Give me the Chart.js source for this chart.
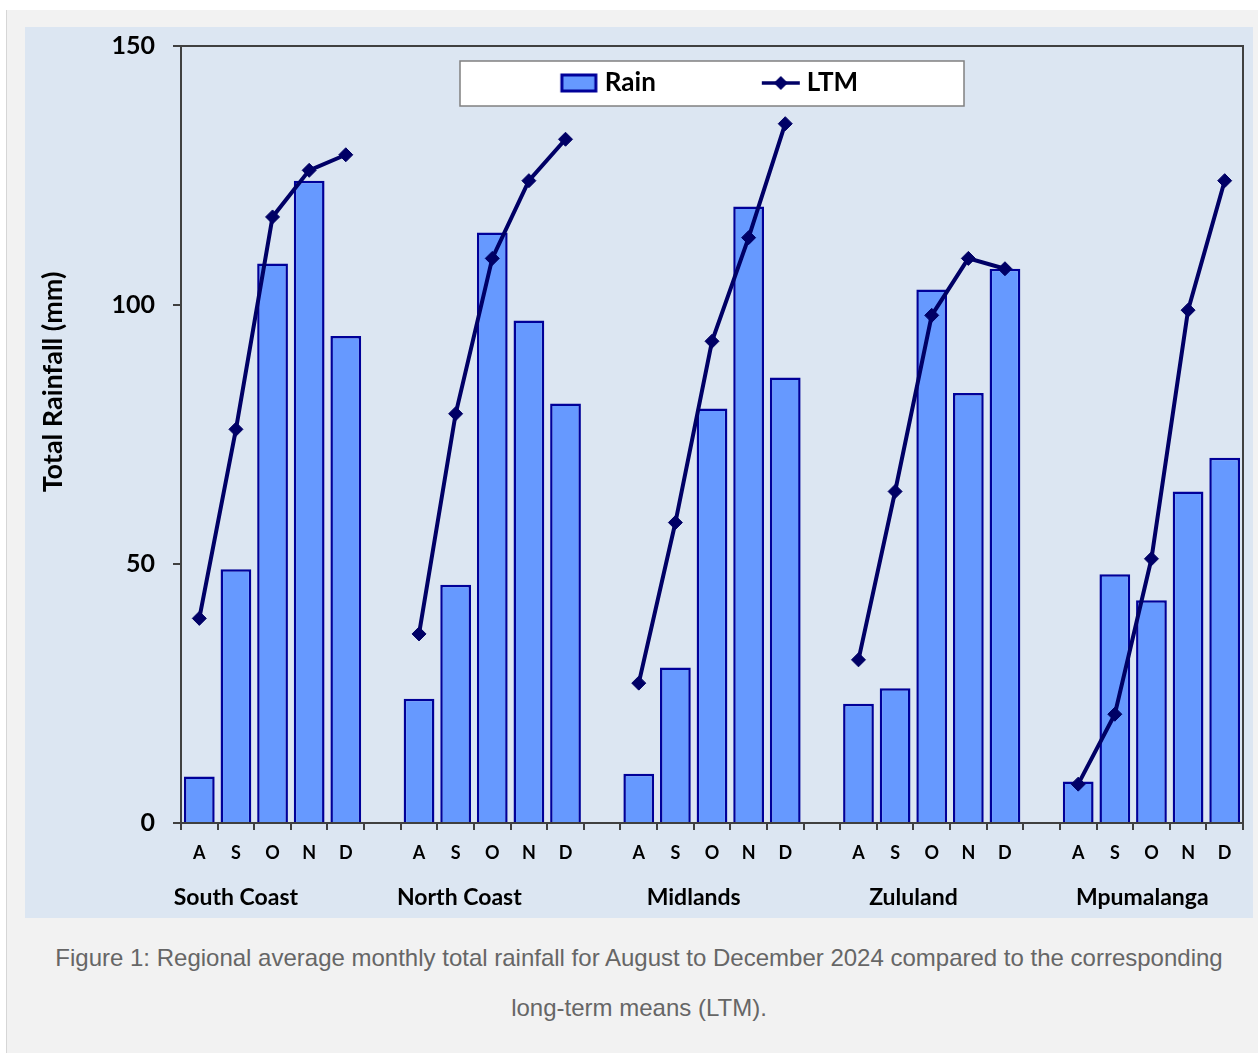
<!DOCTYPE html>
<html>
<head>
<meta charset="utf-8">
<script src="https://cdn.jsdelivr.net/npm/chart.js@4.4.1/dist/chart.umd.min.js"></script>
<style>
body { margin: 0; background: #ffffff; }
#page { position: absolute; left: 6px; top: 10px; width: 1252px; height: 1043px; background: #f2f2f2; border-left: 1px solid #d6d6d6; }
#chartBox { position: absolute; left: 18px; top: 17px; width: 1228px; height: 891px; background: #dce6f2; }
#caption { position: absolute; left: 0px; top: 923px; width: 1264px; text-align: center;
  font-family: "Liberation Sans", Arial, sans-serif; font-size: 24px; line-height: 50px; color: #666666; }
</style>
</head>
<body>
<div id="page">
  <div id="chartBox"><canvas id="myChart"></canvas></div>
  <div id="caption">Figure 1: Regional average monthly total rainfall for August to December 2024 compared to the corresponding<br>long-term means (LTM).</div>
</div>
<script>
const regions = ['South Coast', 'North Coast', 'Midlands', 'Zululand', 'Mpumalanga']
const months = ['A', 'S', 'O', 'N', 'D']

const rainSouthCoast = [9, 49, 108, 124, 94]
const ltmSouthCoast = [39.5, 76, 117, 126, 129]
const rainNorthCoast = [24, 46, 114, 97, 81]
const ltmNorthCoast = [36.5, 79, 109, 124, 132]
const rainMidlands = [9.5, 30, 80, 119, 86]
const ltmMidlands = [27, 58, 93, 113, 135]
const rainZululand = [23, 26, 103, 83, 107]
const ltmZululand = [31.5, 64, 98, 109, 107]
const rainMpumalanga = [8, 48, 43, 64, 70.5]
const ltmMpumalanga = [7.5, 21, 51, 99, 124]

// where each region name sits under its group (in month slots, A = 0)
const regionLabelSlot = [1.0, 1.1, 1.5, 1.5, 1.75]

const yTicks = [0, 50, 100, 150]
const yTitle = 'Total Rainfall (mm)'

const rainByRegion = [rainSouthCoast, rainNorthCoast, rainMidlands, rainZululand, rainMpumalanga]
const ltmByRegion = [ltmSouthCoast, ltmNorthCoast, ltmMidlands, ltmZululand, ltmMpumalanga]

// one spacer category between regions, line breaks there
const monthLabels = []
const rainData = []
const ltmData = []
const regionTickPos = []
regions.forEach((region, i) => {
    regionTickPos.push(monthLabels.length + regionLabelSlot[i])
    months.forEach((m, j) => {
        monthLabels.push(m)
        rainData.push(rainByRegion[i][j])
        ltmData.push(ltmByRegion[i][j])
    })
    if (i < regions.length - 1) {
        monthLabels.push('')
        rainData.push(null)
        ltmData.push(null)
    }
})

const barFill = '#6699ff'
const barBorder = '#000099'
const lineColor = '#000066'
const axisColor = '#404040'
const fontFamily = 'Lato, "Open Sans", sans-serif'

function legendIcon(kind) {
    const c = document.createElement('canvas')
    c.width = 40
    c.height = 22
    const g = c.getContext('2d')
    if (kind === 'bar') {
        g.fillStyle = barFill
        g.fillRect(3, 3, 34, 16)
        g.strokeStyle = barBorder
        g.lineWidth = 3
        g.strokeRect(3, 3, 34, 16)
    } else {
        g.strokeStyle = lineColor
        g.lineWidth = 3.5
        g.beginPath()
        g.moveTo(1, 11)
        g.lineTo(39, 11)
        g.stroke()
        g.fillStyle = lineColor
        g.beginPath()
        g.moveTo(20, 4)
        g.lineTo(27, 11)
        g.lineTo(20, 18)
        g.lineTo(13, 11)
        g.closePath()
        g.fill()
    }
    return c
}

const framePlugin = {
    id: 'frame',
    afterLayout(chart) {
        // move the legend inside the plot frame
        const lg = chart.legend
        const a = chart.chartArea
        const pad = lg.options.labels.padding
        lg.left = a.left
        lg.right = a.right
        lg.top = a.top + 24 - pad
        lg.bottom = a.top + 100
    },
    beforeDraw(chart) {
        const ctx = chart.ctx
        const a = chart.chartArea
        const cx = (a.left + a.right) / 2
        ctx.save()
        ctx.fillStyle = '#ffffff'
        ctx.fillRect(cx - 252, a.top + 15, 504, 45)
        ctx.strokeStyle = '#808080'
        ctx.lineWidth = 1.5
        ctx.strokeRect(cx - 252, a.top + 15, 504, 45)
        ctx.restore()
    },
    afterDraw(chart) {
        const ctx = chart.ctx
        const a = chart.chartArea
        ctx.save()
        ctx.strokeStyle = axisColor
        ctx.lineWidth = 2
        ctx.beginPath()
        ctx.moveTo(a.left, a.top)
        ctx.lineTo(a.right, a.top)
        ctx.lineTo(a.right, a.bottom)
        ctx.stroke()
        // axis title
        ctx.translate(28, 355)
        ctx.rotate(-Math.PI / 2)
        ctx.fillStyle = '#000000'
        ctx.font = 'bold 27px ' + fontFamily
        ctx.textAlign = 'center'
        ctx.textBaseline = 'middle'
        ctx.fillText(yTitle, 0, 0)
        ctx.restore()
    }
}

function createChart() {
    const chartie = document.getElementById('myChart')

    new Chart(chartie, {
        type: 'bar',
        data: {
            labels: monthLabels,
            datasets: [
                {
                    label: 'Rain',
                    data: rainData,
                    backgroundColor: barFill,
                    borderColor: barBorder,
                    borderWidth: 2.5,
                    barPercentage: 0.84,
                    categoryPercentage: 1,
                    order: 1
                },
                {
                    type: 'line',
                    label: 'LTM',
                    data: ltmData,
                    borderColor: lineColor,
                    borderWidth: 4,
                    backgroundColor: lineColor,
                    pointStyle: 'rectRot',
                    pointRadius: 7,
                    pointBackgroundColor: lineColor,
                    pointBorderColor: lineColor,
                    pointBorderWidth: 1,
                    spanGaps: false,
                    tension: 0,
                    order: 0
                }
            ]
        },
        options: {
            maintainAspectRatio: false,
            responsive: true,
            animation: false,
            layout: { padding: { top: 18, right: 10, left: 0, bottom: 0 } },
            plugins: {
                tooltip: { enabled: false },
                legend: {
                    position: 'top',
                    align: 'center',
                    maxHeight: 1,
                    labels: {
                        usePointStyle: true,
                        pointStyleWidth: 26,
                        padding: 112,
                        color: '#000000',
                        font: { family: fontFamily, size: 26, weight: 'bold' },
                        generateLabels: () => [
                            { text: 'Rain', pointStyle: legendIcon('bar'), datasetIndex: 0, fontColor: '#000000', lineWidth: 0 },
                            { text: 'LTM', pointStyle: legendIcon('line'), datasetIndex: 1, fontColor: '#000000', lineWidth: 0 }
                        ]
                    }
                }
            },
            scales: {
                x: {
                    offset: true,
                    border: { display: true, color: axisColor, width: 2 },
                    grid: { offset: true, drawOnChartArea: false, drawTicks: true, tickLength: 7, color: axisColor, lineWidth: 2 },
                    ticks: {
                        autoSkip: false, maxRotation: 0, minRotation: 0, padding: 12, color: '#000000',
                        font: { family: fontFamily, size: 18, weight: 'bold' }
                    },
                    afterFit: (scale) => { scale.height = 50 }
                },
                x2: {
                    type: 'linear',
                    position: 'bottom',
                    offset: false,
                    min: -0.5,
                    max: monthLabels.length - 0.5,
                    afterBuildTicks: (scale) => { scale.ticks = regionTickPos.map(v => ({ value: v })) },
                    border: { display: false },
                    grid: { display: false, drawTicks: false },
                    ticks: {
                        autoSkip: false, maxRotation: 0, minRotation: 0, padding: 11, color: '#000000',
                        font: { family: fontFamily, size: 23, weight: 'bold' },
                        callback: (value, index) => regions[index]
                    },
                    afterFit: (scale) => { scale.height = 45 }
                },
                y: {
                    min: yTicks[0],
                    max: yTicks[yTicks.length - 1],
                    afterBuildTicks: (scale) => { scale.ticks = yTicks.map(v => ({ value: v })) },
                    border: { display: true, color: axisColor, width: 2 },
                    grid: { drawOnChartArea: false, drawTicks: true, tickLength: 8, color: axisColor, lineWidth: 2 },
                    ticks: {
                        padding: 18, color: '#000000',
                        font: { family: fontFamily, size: 25, weight: 'bold' }
                    },
                    afterFit: (scale) => {
                        scale.width = 156
                        scale.paddingTop = 0
                        scale.paddingBottom = 0
                    }
                }
            }
        },
        plugins: [framePlugin]
    })
    console.log('chart created')
}

createChart()
</script>
</body>
</html>
